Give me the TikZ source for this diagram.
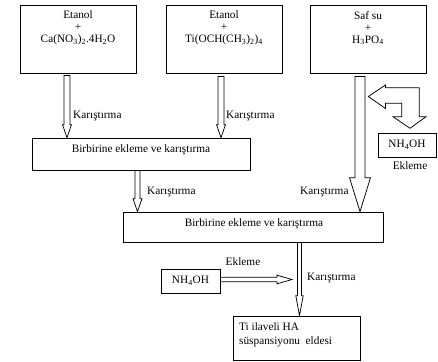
\documentclass[tikz,border=0pt]{standalone}
\usepackage{fontspec}
\setmainfont{Liberation Serif}
\usetikzlibrary{calc}

% 空心箭头: 起点, 终点, 杆半宽, 头半宽, 头长
\newcommand{\flowdown}[5]{%
  \draw[flowline] let \p1=#1, \p2=#2 in
    (\x1-#3,\y1) -- (\x1-#3,\y2+#5) -- (\x1-#4,\y2+#5) -- (\x1,\y2)
    -- (\x1+#4,\y2+#5) -- (\x1+#3,\y2+#5) -- (\x1+#3,\y1) -- cycle;}
\newcommand{\flowright}[5]{%
  \draw[flowline] let \p1=#1, \p2=#2 in
    (\x1,\y1+#3) -- (\x2-#5,\y1+#3) -- (\x2-#5,\y1+#4) -- (\x2,\y1)
    -- (\x2-#5,\y1-#4) -- (\x2-#5,\y1-#3) -- (\x1,\y1-#3) -- cycle;}

\begin{document}
\begin{tikzpicture}[x=1pt, y=-1pt, font=\fontsize{11.3}{12}\selectfont,
    box/.style={draw, line width=0.75pt, inner sep=0pt},
    srcbox/.style={box, minimum width=116pt, minimum height=68pt},
    flowline/.style={draw, line width=0.75pt, line join=miter},
    lbl/.style={inner sep=1pt}]
    \useasboundingbox (0,0) rectangle (438,361);

    % 原料框
    \foreach \n/\x in {ca/78, ti/224, su/368}
        \node[srcbox] (\n) at (\x,39) {};
    \node[align=center, anchor=north] (cat) at ([yshift=-3pt]ca.north)
        {Etanol\\+\\Ca(NO\textsubscript{3})\textsubscript{2}.4H\textsubscript{2}O};
    \node[align=center, anchor=north] (tit) at ([yshift=-3pt]ti.north)
        {Etanol\\+\\Ti(OCH(CH\textsubscript{3})\textsubscript{2})\textsubscript{4}};
    \node[align=center, anchor=north] (sut) at ([yshift=-3pt]su.north)
        {Saf su\\+\\H\textsubscript{3}PO\textsubscript{4}};

    % 混合框
    \node[box, minimum width=218pt, minimum height=32pt] (mix1) at (141,154) {};
    \node (mix1t) at (141,149.5) {Birbirine ekleme ve karıştırma};
    \node[box, minimum width=260pt, minimum height=30pt] (mix2) at (253,227) {};
    \node (mix2t) at (254,223.5) {Birbirine ekleme ve karıştırma};

    % NH4OH 与结果
    \node[box, minimum width=58pt, minimum height=24pt] (nh1) at (407,145) {NH\textsubscript{4}OH};
    \node[box, minimum width=59pt, minimum height=24pt] (nh2) at (190.5,281) {NH\textsubscript{4}OH};
    \node[box, minimum width=127pt, minimum height=44pt] (fin) at (296.5,338) {};
    \node[align=left, anchor=north west, font=\fontsize{11.3}{14}\selectfont] (fint)
        at ([xshift=3pt,yshift=-3pt]fin.north west) {Ti ilaveli HA\\süspansiyonu~ eldesi};

    % 箭头
    \flowdown{([xshift=-11pt,yshift=-2pt]ca.south)}{(mix1.north)}{3pt}{4.5pt}{13pt}
    \flowdown{([xshift=-3pt,yshift=-3pt]ti.south)}{(mix1.north)}{3pt}{4.5pt}{13pt}
    \flowdown{([xshift=-3.5pt]mix1.south)}{(mix2.north)}{2.5pt}{4.5pt}{13pt}
    \flowdown{([xshift=-8pt,yshift=-3pt]su.south)}{(mix2.north)}{5pt}{10.5pt}{34pt}
    \flowdown{([xshift=46.5pt]mix2.south)}{(fin.north)}{2pt}{3.7pt}{20pt}
    \coordinate (join) at (292,279.5);
    \flowright{([yshift=1.5pt]nh2.east)}{(join)}{2.2pt}{4.3pt}{15pt}

    % 回流箭头
    \draw[flowline] (368.3,96.5) -- (385.5,85) -- (385.5,87.7) -- (419.3,87.7)
        -- (419.3,116.7) -- (426,116.7) -- (410,128.3) -- (393,116.7)
        -- (401.7,116.7) -- (401.7,103.3) -- (385.5,103.3) -- (385.5,108.5) -- cycle;

    % 标注
    \foreach \x/\y [count=\i] in {72/116, 225/116, 146/192, 299/192, 306/278}
        \node[lbl, anchor=west] (k\i) at (\x,\y) {Karıştırma};
    \node (e1) at (410,166) {Ekleme};
    \node (e2) at (243,262) {Ekleme};
\end{tikzpicture}
\end{document}
